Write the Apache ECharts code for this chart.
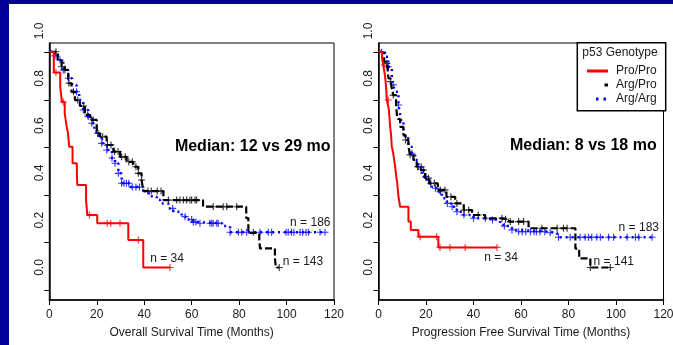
<!DOCTYPE html>
<html>
<head>
<meta charset="utf-8">
<script src="https://cdn.jsdelivr.net/npm/echarts@6/dist/echarts.min.js"></script>
<style>
  html, body { margin: 0; padding: 0; background: #000099; }
  #paper { position: absolute; left: 9px; top: 4px; width: 664px; height: 341px; background: #fff; }
  #chart { position: absolute; left: 0; top: 0; width: 673px; height: 345px; }
</style>
</head>
<body>
<div id="paper"></div>
<div id="chart"></div>
<script>
const FONT = '"Liberation Sans", Arial, sans-serif'
const TEXT = '#1a1a1a'

const xTicks = [0, 20, 40, 60, 80, 100, 120]
const yLabels = [0, 0.2, 0.4, 0.6, 0.8, 1.0]
const yTicks = [-0.095, 0.106, 0.307, 0.508, 0.709, 0.91]

// overall survival: [months, survival]
const osProPro = [[0, 0.912], [1.9, 0.824], [4.6, 0.765], [5.3, 0.70], [6.5, 0.652], [7.2, 0.603], [7.9, 0.567], [8.4, 0.511], [9.8, 0.441], [11.6, 0.40], [11.8, 0.349], [15.5, 0.285], [16.0, 0.222], [20.2, 0.187], [33.3, 0.116], [39.6, 0], [50.9, 0]]
const osProProCens = [2.8, 5.9, 16.9, 24.4, 25.9, 29.8, 37.5, 50.9]
const osArgPro = [[0, 0.912], [3.5, 0.88], [5.2, 0.849], [6.6, 0.835], [8.0, 0.779], [9.4, 0.743], [10.8, 0.708], [12.9, 0.683], [15.0, 0.645], [17.2, 0.624], [20.0, 0.567], [21.4, 0.553], [24.2, 0.518], [27.0, 0.490], [29.8, 0.468], [32.6, 0.447], [35.4, 0.426], [37.5, 0.398], [38.9, 0.37], [39.6, 0.323], [48.1, 0.285], [64.8, 0.257], [83.0, 0.209], [83.9, 0.146], [88.5, 0.116], [88.8, 0.081], [95.1, 0.039], [95.5, 0], [96.9, 0]]
const osArgProCens = [2.8, 5.2, 6.6, 8.3, 10.2, 12.0, 14.5, 16.2, 18.5, 20.5, 22.5, 24.5, 26.0, 27.5, 29.0, 30.5, 32.0, 33.5, 35.0, 36.5, 37.5, 38.9, 41.6, 43.0, 45.5, 47.1, 50.2, 53.7, 55.1, 56.5, 57.9, 59.3, 60.0, 61.4, 62.1, 69.1, 73.3, 74.8, 79.0, 96.9]
const osArgArg = [[0, 0.912], [2.4, 0.895], [4.5, 0.877], [5.9, 0.835], [8.0, 0.80], [9.6, 0.772], [11.5, 0.743], [12.6, 0.708], [14.3, 0.666], [16.4, 0.638], [17.9, 0.610], [19.0, 0.574], [20.7, 0.546], [22.1, 0.525], [24.2, 0.497], [26.4, 0.463], [27.7, 0.441], [29.1, 0.398], [30.5, 0.356], [34.0, 0.340], [39.6, 0.323], [41.7, 0.314], [43.2, 0.299], [45.3, 0.285], [46.7, 0.271], [50.2, 0.250], [52.3, 0.236], [55.8, 0.215], [57.9, 0.203], [60.7, 0.192], [62.8, 0.187], [72.8, 0.175], [76.2, 0.149], [116.2, 0.149]]
const osArgArgCens = [2.4, 4.5, 5.9, 8.0, 11.5, 14.3, 16.4, 17.9, 22.1, 24.2, 26.4, 27.7, 29.1, 30.5, 31.5, 32.5, 33.5, 35.0, 36.5, 38.0, 52.0, 57.2, 60.0, 60.7, 61.8, 63.5, 67.7, 68.5, 69.1, 70.6, 71.2, 76.2, 79.7, 81.1, 83.2, 86.0, 88.8, 92.3, 93.7, 99.8, 100.7, 102.1, 103.1, 105.7, 106.8, 108.2, 109.2, 114.1, 116.2]

// progression free survival
const pfsProPro = [[0, 0.912], [1.5, 0.885], [2.0, 0.856], [2.7, 0.814], [3.2, 0.764], [3.5, 0.708], [4.3, 0.673], [4.6, 0.638], [4.9, 0.595], [5.3, 0.56], [5.6, 0.511], [6.2, 0.483], [7.0, 0.426], [7.5, 0.384], [7.9, 0.356], [8.4, 0.299], [9.1, 0.257], [12.6, 0.194], [13.6, 0.159], [16.8, 0.13], [25.2, 0.085], [49.9, 0.085]]
const pfsProProCens = [2.4, 4.1, 17.5, 24.5, 25.9, 30.1, 36.5, 49.9]
const pfsArgPro = [[0, 0.912], [1.3, 0.906], [2.4, 0.870], [3.5, 0.863], [4.2, 0.80], [5.1, 0.786], [5.6, 0.758], [6.2, 0.729], [7.4, 0.687], [7.9, 0.628], [9.1, 0.595], [10.5, 0.560], [11.4, 0.539], [12.6, 0.511], [13.3, 0.476], [14.7, 0.455], [16.1, 0.426], [17.8, 0.412], [19.6, 0.378], [21.4, 0.356], [25.0, 0.328], [28.6, 0.299], [32.3, 0.271], [35.9, 0.243], [39.4, 0.222], [44.9, 0.208], [52.1, 0.204], [54.9, 0.194], [63.2, 0.166], [82.9, 0.08], [84.5, 0.039], [89.2, 0], [97.6, 0]]
const pfsArgProCens = [3.5, 5.1, 6.2, 11.4, 13.3, 16.5, 19.0, 21.0, 23.5, 26.0, 28.0, 30.5, 33.0, 36.0, 38.0, 42.0, 52.0, 53.5, 55.5, 59.0, 61.1, 68.8, 75.2, 77.9, 79.4, 89.2, 97.6]
const pfsArgArg = [[0, 0.912], [1.3, 0.910], [2.7, 0.891], [4.1, 0.849], [5.6, 0.80], [6.2, 0.772], [7.0, 0.743], [8.4, 0.687], [8.8, 0.666], [9.5, 0.624], [10.5, 0.581], [11.2, 0.546], [12.6, 0.511], [14.0, 0.483], [15.4, 0.455], [16.8, 0.426], [18.2, 0.384], [20.3, 0.356], [22.4, 0.335], [24.5, 0.321], [26.7, 0.293], [28.8, 0.271], [30.9, 0.257], [33.0, 0.236], [35.8, 0.222], [40.0, 0.208], [45.6, 0.201], [51.2, 0.187], [52.6, 0.175], [56.2, 0.159], [59.0, 0.151], [72.3, 0.147], [75.2, 0.137], [75.8, 0.128], [116.2, 0.128]]
const pfsArgArgCens = [1.3, 4.1, 6.2, 8.4, 14.0, 16.8, 18.0, 20.0, 22.0, 24.0, 26.0, 29.0, 31.0, 33.0, 36.0, 40.0, 45.0, 48.0, 53.0, 56.2, 59.0, 60.5, 62.0, 64.0, 65.5, 66.5, 68.0, 70.0, 72.3, 75.8, 80.7, 84.9, 87.0, 88.4, 89.8, 91.9, 93.4, 96.9, 99.0, 104.7, 108.2, 109.6, 115.2]

// page geometry: survival 0 sits at y=267.5, 1.0 spans 236.5px
const ZERO_Y = 267.5, UNIT = 236.5
const PLOT_TOP = 43, PLOT_BOTTOM = 300
const yMin = -(PLOT_BOTTOM - ZERO_Y) / UNIT
const yMax = (ZERO_Y - PLOT_TOP) / UNIT
const labelTop = ZERO_Y - UNIT
const panels = [{ left: 49.3, width: 284.7 }, { left: 378.5, width: 285 }]

const PLUS = 'path://M4.2,0h1.6v4.2h4.2v1.6h-4.2v4.2h-1.6v-4.2h-4.2v-1.6h4.2z'
const COLORS = { 'Pro/Pro': '#ff0000', 'Arg/Pro': '#000000', 'Arg/Arg': '#0000ff' }
const LINE = {
  'Pro/Pro': { width: 2, type: 'solid' },
  'Arg/Pro': { width: 2.2, type: [7, 3] },
  'Arg/Arg': { width: 2.5, type: [2, 4] }
}

// put each censoring time on its curve
const onCurve = (curve, times) => times.map(t => {
  let v = curve[0][1]
  curve.forEach(([x, y]) => { if (x <= t) v = y })
  return [t, v]
})

const curveSeries = (name, data, cens, idx) => [
  {
    name, type: 'line', step: 'end', data, xAxisIndex: idx, yAxisIndex: idx,
    symbol: 'none', silent: true,
    lineStyle: { color: COLORS[name], width: LINE[name].width, type: LINE[name].type },
    itemStyle: { color: COLORS[name] }
  },
  {
    name, type: 'scatter', data: onCurve(data, cens), xAxisIndex: idx, yAxisIndex: idx,
    symbol: PLUS, symbolSize: 7, silent: true,
    itemStyle: { color: COLORS[name] }
  }
]

const grids = panels.map(p => ({
  left: p.left, width: p.width, top: PLOT_TOP, height: PLOT_BOTTOM - PLOT_TOP,
  show: true, borderColor: '#000', borderWidth: 1, outerBoundsMode: 'none'
})).concat(panels.map(p => ({
  left: p.left, width: p.width, top: labelTop, height: PLOT_BOTTOM - labelTop, outerBoundsMode: 'none'
})))

const xTitles = ['Overall Survival Time (Months)', 'Progression Free Survival Time (Months)']

const xAxes = [0, 1].map(i => ({
  type: 'value', gridIndex: i, min: 0, max: 120, interval: 20,
  name: xTitles[i], nameLocation: 'middle', nameGap: 27,
  nameTextStyle: { fontFamily: FONT, fontSize: 12, color: TEXT },
  axisLine: { onZero: false, lineStyle: { color: '#000', width: 1.5 } },
  axisTick: { length: 5, lineStyle: { color: '#000', width: 1 }, customValues: xTicks },
  axisLabel: { fontFamily: FONT, fontSize: 12, color: TEXT, margin: 9, customValues: xTicks },
  splitLine: { show: false }
})).concat([2, 3].map(i => ({
  type: 'value', gridIndex: i, min: 0, max: 120, show: false
})))

const yAxes = [0, 1].map(i => ({
  type: 'value', gridIndex: i, min: yMin, max: yMax,
  axisLine: { show: true, onZero: false, lineStyle: { color: '#000', width: 1.5 } },
  axisTick: { show: true, length: 5, lineStyle: { color: '#000', width: 1 }, customValues: yTicks },
  axisLabel: { show: false },
  splitLine: { show: false }
})).concat([2, 3].map(i => ({
  type: 'value', gridIndex: i, min: yMin, max: 1.0,
  axisLine: { show: false }, axisTick: { show: false }, splitLine: { show: false },
  axisLabel: {
    customValues: yLabels, rotate: 90, margin: 4,
    fontFamily: FONT, fontSize: 12, color: TEXT,
    formatter: v => v.toFixed(1)
  }
})))

const note = (text, x, y, extra) => ({
  type: 'text', x, y, silent: true,
  style: Object.assign({ text, fill: TEXT, font: '12px ' + FONT, textAlign: 'center', textVerticalAlign: 'middle' }, extra || {})
})

const option = {
  animation: false,
  grid: grids,
  xAxis: xAxes,
  yAxis: yAxes,
  legend: {
    orient: 'vertical', left: 587, top: 64, padding: 0, itemGap: 0,
    itemWidth: 21, itemHeight: 3, symbolKeepAspect: true,
    itemStyle: { borderWidth: 0 },
    textStyle: { fontFamily: FONT, fontSize: 12, color: TEXT, lineHeight: 14, padding: [0, 0, 0, 3] },
    data: [
      { name: 'Pro/Pro', icon: 'rect' },
      { name: 'Arg/Pro', icon: 'path://M17.5,0h3.5v3h-3.5z M0,1.5h0.01v0.01h-0.01z' },
      { name: 'Arg/Arg', icon: 'path://M9,0h2.5v3h-2.5z M16.5,0h2.5v3h-2.5z M0,1.5h0.01v0.01h-0.01z M21,1.5h0.01v0.01h-0.01z' }
    ]
  },
  graphic: [
    { type: 'rect', z: 3, shape: { x: 577.3, y: 42.7, width: 88.4, height: 68 }, style: { fill: '#fff', stroke: '#000', lineWidth: 1.5 } },
    Object.assign(note('p53 Genotype', 620, 53), { z: 4 }),
    note('Median: 12 vs 29 mo', 330.5, 146.7, { font: 'bold 16px ' + FONT, textAlign: 'right', fill: '#000' }),
    note('Median: 8 vs 18 mo', 656.7, 145.7, { font: 'bold 16px ' + FONT, textAlign: 'right', fill: '#000' }),
    note('n = 34', 167, 258.3),
    note('n = 186', 310.3, 222.7),
    note('n = 143', 303, 261.7),
    note('n = 34', 501, 257.3),
    note('n = 183', 638.8, 227.7),
    note('n = 141', 613.8, 261.7)
  ],
  series: [
    ...curveSeries('Arg/Arg', osArgArg, osArgArgCens, 0),
    ...curveSeries('Arg/Pro', osArgPro, osArgProCens, 0),
    ...curveSeries('Pro/Pro', osProPro, osProProCens, 0),
    ...curveSeries('Arg/Arg', pfsArgArg, pfsArgArgCens, 1),
    ...curveSeries('Arg/Pro', pfsArgPro, pfsArgProCens, 1),
    ...curveSeries('Pro/Pro', pfsProPro, pfsProProCens, 1)
  ]
}

const chart = echarts.init(document.getElementById('chart'))
chart.setOption(option)
</script>
</body>
</html>
